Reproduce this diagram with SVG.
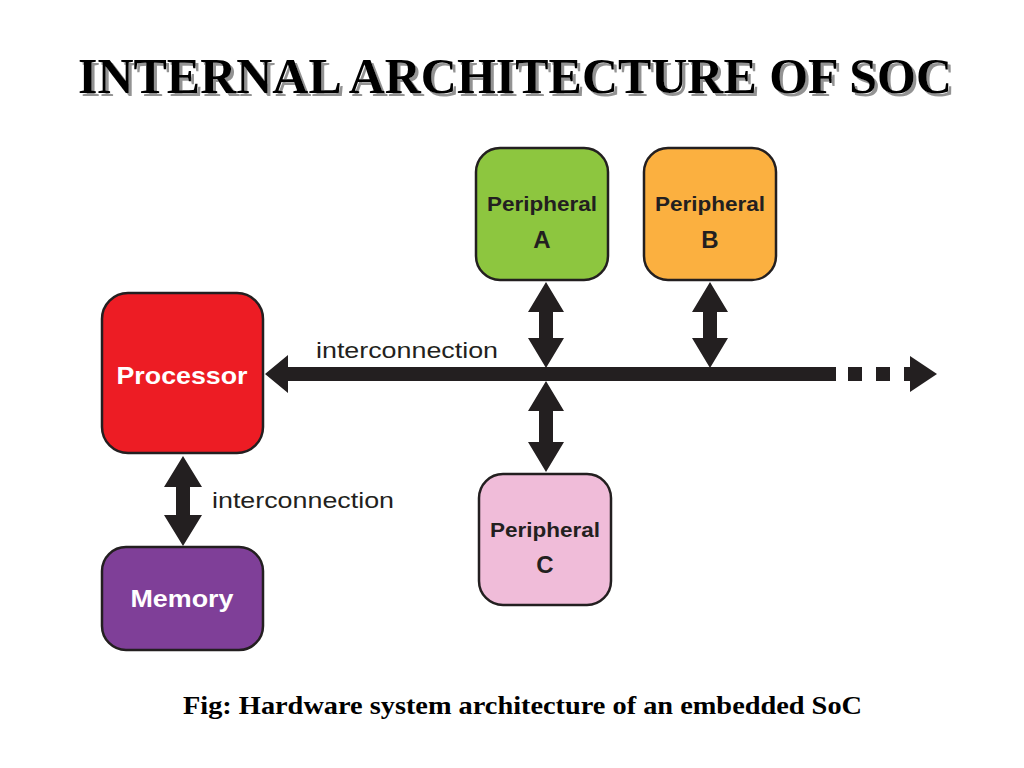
<svg xmlns="http://www.w3.org/2000/svg" width="1024" height="768" viewBox="0 0 1024 768">
<defs>
<filter id="sh" x="-5%" y="-20%" width="110%" height="140%">
<feDropShadow dx="3" dy="3" stdDeviation="0.6" flood-color="#777" flood-opacity="0.8"/>
</filter>
</defs>
<style>
.box{stroke:#231f20;stroke-width:2.5}
.lbl{font-family:"Liberation Sans",Arial,sans-serif;font-weight:bold;text-anchor:middle}
.dark{fill:#231f20}
.wt{fill:#ffffff}
.ic{font-family:"Liberation Sans",Arial,sans-serif;font-size:22px;fill:#231f20}
.arr{fill:#231f20}
</style>
<rect width="1024" height="768" fill="#ffffff"/>
<text x="78" y="93" font-family="'Liberation Serif',serif" font-size="50" font-weight="bold" textLength="874" lengthAdjust="spacingAndGlyphs" fill="#000" filter="url(#sh)">INTERNAL ARCHITECTURE OF SOC</text>
<g id="connectors">
<path class="arr" d="M265,374 L288,355 L288,367 L836,367 L836,381 L288,381 L288,393 Z"/>
<rect class="arr" x="848" y="367" width="14" height="14"/>
<rect class="arr" x="876" y="367" width="14" height="14"/>
<path class="arr" d="M904,367 L910,367 L910,356 L937,374 L910,392 L910,381 L904,381 Z"/>
<path class="arr" d="M546,282 L564,312 L553,312 L553,338 L564,338 L546,368 L528,338 L539,338 L539,312 L528,312 Z"/>
<path class="arr" d="M710,282 L728,312 L717,312 L717,338 L728,338 L710,368 L692,338 L703,338 L703,312 L692,312 Z"/>
<path class="arr" d="M546,381 L564,411 L553,411 L553,442 L564,442 L546,472 L528,442 L539,442 L539,411 L528,411 Z"/>
<path class="arr" d="M183,456 L202,487 L190,487 L190,515 L202,515 L183,546 L164,515 L176,515 L176,487 L164,487 Z"/>
<text class="ic" x="316" y="358" textLength="182" lengthAdjust="spacingAndGlyphs">interconnection</text>
<text class="ic" x="212" y="508" textLength="182" lengthAdjust="spacingAndGlyphs">interconnection</text>
</g>
<g id="processor">
<rect class="box" x="102" y="293" width="161" height="160" rx="26" fill="#ed1c24"/>
<text class="lbl wt" x="182" y="384" font-size="24" textLength="131" lengthAdjust="spacingAndGlyphs">Processor</text>
</g>
<g id="memory">
<rect class="box" x="102" y="547" width="161" height="103" rx="24" fill="#7f3f98"/>
<text class="lbl wt" x="182" y="607" font-size="24" textLength="103" lengthAdjust="spacingAndGlyphs">Memory</text>
</g>
<g id="peripheralA">
<rect class="box" x="476" y="148" width="132" height="132" rx="24" fill="#8dc63f"/>
<text class="lbl dark" x="542" y="211" font-size="21" textLength="110" lengthAdjust="spacingAndGlyphs">Peripheral</text>
<text class="lbl dark" x="542" y="248" font-size="24">A</text>
</g>
<g id="peripheralB">
<rect class="box" x="644" y="148" width="132" height="132" rx="24" fill="#fbb040"/>
<text class="lbl dark" x="710" y="211" font-size="21" textLength="110" lengthAdjust="spacingAndGlyphs">Peripheral</text>
<text class="lbl dark" x="710" y="248" font-size="24">B</text>
</g>
<g id="peripheralC">
<rect class="box" x="479" y="474" width="132" height="131" rx="24" fill="#f0bcd9"/>
<text class="lbl dark" x="545" y="537" font-size="21" textLength="110" lengthAdjust="spacingAndGlyphs">Peripheral</text>
<text class="lbl dark" x="545" y="573" font-size="24">C</text>
</g>
<text x="183" y="714" font-family="'Liberation Serif','Times New Roman',serif" font-size="26" font-weight="bold" textLength="679" lengthAdjust="spacingAndGlyphs" fill="#000">Fig: Hardware system architecture of an embedded SoC</text>
</svg>
